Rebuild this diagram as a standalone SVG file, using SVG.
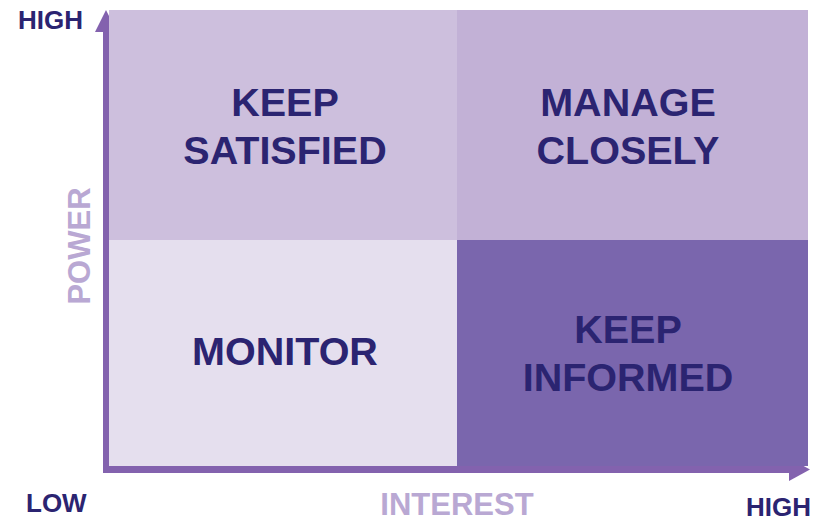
<svg xmlns="http://www.w3.org/2000/svg" width="822" height="522" viewBox="0 0 822 522">
<style>
.q{font-family:"Liberation Sans",Arial,sans-serif;font-weight:bold;font-size:39.5px;fill:#2B2471;text-anchor:middle}
.ax{font-family:"Liberation Sans",Arial,sans-serif;font-weight:bold;font-size:26px;fill:#2B2471}
.al{font-family:"Liberation Sans",Arial,sans-serif;font-weight:bold;font-size:31px;fill:#B9A8D3;text-anchor:middle}
</style>
<rect width="822" height="522" fill="#FFFFFF"/>
<g id="connectors">
<rect x="103" y="28" width="6" height="445" fill="#8362AE"/>
<polygon points="106,10 95,32 117,32" fill="#8362AE"/>
<rect x="103" y="466" width="690" height="7" fill="#8362AE"/>
<polygon points="810,469.5 789,458 789,481" fill="#8362AE"/>
</g>
<g id="keep-satisfied">
<rect x="109" y="10" width="348" height="230" fill="#CDBFDD"/>
<text class="q" x="285" y="116">KEEP</text>
<text class="q" x="285" y="164">SATISFIED</text>
</g>
<g id="manage-closely">
<rect x="457" y="10" width="351" height="230" fill="#C2B1D6"/>
<text class="q" x="628" y="116">MANAGE</text>
<text class="q" x="628" y="164">CLOSELY</text>
</g>
<g id="monitor">
<rect x="109" y="240" width="348" height="226" fill="#E5DFEE"/>
<text class="q" x="285" y="365">MONITOR</text>
</g>
<g id="keep-informed">
<rect x="457" y="240" width="351" height="226" fill="#7A66AD"/>
<text class="q" x="628" y="343">KEEP</text>
<text class="q" x="628" y="391">INFORMED</text>
</g>
<g id="labels">
<text class="ax" x="18" y="29">HIGH</text>
<text class="ax" x="26" y="512">LOW</text>
<text class="ax" x="746" y="516">HIGH</text>
<text class="al" x="457" y="515">INTEREST</text>
<text class="al" transform="translate(90,246) rotate(-90)" x="0" y="0">POWER</text>
</g>
</svg>
